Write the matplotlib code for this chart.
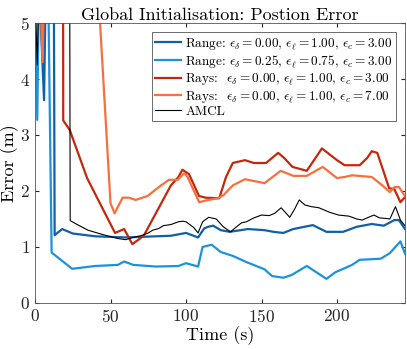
import matplotlib
matplotlib.use("Agg")
import matplotlib.pyplot as plt

plt.rcParams['font.family'] = 'serif'
plt.rcParams['font.serif'] = ['cmr10']
plt.rcParams['mathtext.fontset'] = 'cm'
plt.rcParams['axes.formatter.use_mathtext'] = True

# Range, eps_d=0.00, eps_l=1.00, eps_c=3.00
range1_t = [0, 3, 6, 7, 12.5, 13, 18, 25, 40, 60, 70, 90, 100, 108, 112, 114.6, 118, 123, 129, 141,
            152, 158, 164.5, 171, 184, 193, 204, 213, 223, 231, 238, 241, 245]
range1_e = [5.5, 5.5, 3.62, 5.5, 5.5, 1.21, 1.32, 1.24, 1.19, 1.17, 1.18, 1.20, 1.25, 1.17, 1.33, 1.36,
            1.38, 1.30, 1.27, 1.32, 1.30, 1.27, 1.25, 1.32, 1.39, 1.27, 1.27, 1.36, 1.41, 1.38, 1.48, 1.48, 1.32]

# Range, eps_d=0.25, eps_l=0.75, eps_c=3.00
range2_t = [0, 1.5, 2.5, 8.8, 11, 24.6, 40, 55, 59, 65, 80, 95, 100, 108, 111, 117, 123, 131, 140,
            152, 157, 164.5, 170, 180, 193, 199, 205, 210, 215, 229, 235, 242, 245]
range2_e = [5.5, 3.27, 5.5, 5.5, 0.90, 0.61, 0.66, 0.68, 0.74, 0.68, 0.65, 0.66, 0.71, 0.65, 1.00, 1.04,
            0.91, 0.84, 0.73, 0.60, 0.48, 0.45, 0.50, 0.66, 0.43, 0.55, 0.62, 0.68, 0.77, 0.79, 0.89, 1.10, 0.88]

# Rays, eps_d=0.00, eps_l=1.00, eps_c=3.00
rays1_t = [0, 18.6, 18.7, 23, 34.5, 53, 59, 64.5, 72, 80, 90, 95, 97.6, 102, 108.6, 113, 122, 126.5,
           131, 139, 145, 153, 157, 161, 165, 170.5, 180, 190, 200, 205, 215, 220, 223, 226.7, 234.5,
           238, 242, 245]
rays1_e = [5.5, 5.5, 3.26, 3.09, 2.23, 1.25, 1.32, 1.05, 1.20, 1.60, 2.10, 2.25, 2.38, 2.30, 1.91, 1.88,
           1.87, 2.25, 2.50, 2.55, 2.50, 2.50, 2.59, 2.68, 2.59, 2.43, 2.36, 2.76, 2.55, 2.46, 2.46, 2.59,
           2.71, 2.68, 2.05, 2.03, 1.80, 1.89]

# Rays, eps_d=0.00, eps_l=1.00, eps_c=7.00
rays2_t = [0, 3.5, 5, 6, 42, 50, 52.7, 58, 62, 66.7, 74.5, 82, 88.7, 94.5, 98.9, 101, 108.7, 114.7,
           121, 125, 131, 139, 152, 162.7, 171, 180, 190.5, 200, 205, 210, 223, 230, 235, 238, 241, 245]
rays2_e = [5.5, 5.5, 4.3, 5.5, 5.5, 1.78, 1.60, 1.88, 1.88, 1.84, 1.91, 2.07, 2.20, 2.20, 2.32, 2.25,
           1.80, 1.84, 1.87, 1.93, 2.10, 2.21, 2.14, 2.36, 2.27, 2.27, 2.43, 2.23, 2.25, 2.28, 2.25, 2.10,
           1.98, 2.07, 2.07, 1.91]

# AMCL
amcl_t = [0, 1.5, 2.5, 23.0, 23.3, 28, 35, 45, 55, 60, 65, 70, 75, 78, 82, 85, 90, 95, 98, 100, 102,
          105, 108, 111, 115, 120, 124.7, 129.5, 133, 136.7, 140, 145, 150, 155, 158.7, 163, 168.7, 172,
          175, 178.7, 183, 188, 195, 201, 208, 213, 216.7, 220, 224.5, 228, 232, 235, 238.7, 242, 245]
amcl_e = [5.5, 4.25, 5.5, 5.5, 1.47, 1.40, 1.30, 1.22, 1.15, 1.13, 1.17, 1.20, 1.25, 1.30, 1.33, 1.38,
          1.40, 1.45, 1.46, 1.45, 1.41, 1.35, 1.25, 1.45, 1.53, 1.50, 1.36, 1.27, 1.35, 1.43, 1.45, 1.52,
          1.57, 1.56, 1.60, 1.70, 1.53, 1.68, 1.84, 1.75, 1.72, 1.70, 1.62, 1.57, 1.55, 1.50, 1.48, 1.52,
          1.57, 1.52, 1.51, 1.50, 1.72, 1.48, 1.38]

fig = plt.figure(figsize=(4.07, 3.49), dpi=100)
ax = fig.add_axes([0.086, 0.132, 0.909, 0.802])

ax.plot(range1_t, range1_e, color='#1060a8', lw=1.6,
        label=r'Range: $\epsilon_\delta = 0.00$, $\epsilon_\ell = 1.00$, $\epsilon_c = 3.00$')
ax.plot(range2_t, range2_e, color='#1b93dc', lw=1.6,
        label=r'Range: $\epsilon_\delta = 0.25$, $\epsilon_\ell = 0.75$, $\epsilon_c = 3.00$')
ax.plot(rays1_t, rays1_e, color='#c4280c', lw=1.6,
        label=r'Rays:$\;\,$ $\epsilon_\delta = 0.00$, $\epsilon_\ell = 1.00$, $\epsilon_c = 3.00$')
ax.plot(rays2_t, rays2_e, color='#f5703c', lw=1.6,
        label=r'Rays:$\;\,$ $\epsilon_\delta = 0.00$, $\epsilon_\ell = 1.00$, $\epsilon_c = 7.00$')
ax.plot(amcl_t, amcl_e, color='black', lw=0.8, label='AMCL')

ax.set_xlim(0, 245)
ax.set_ylim(0, 5)
ax.set_xticks([0, 50, 100, 150, 200])
ax.set_yticks([0, 1, 2, 3, 4, 5])
ax.tick_params(direction='in', top=True, right=True, labelsize=12.5, colors='#262626', length=3)
for s in ax.spines.values():
    s.set_color('#555555')
    s.set_linewidth(0.6)

ax.set_title('Global Initialisation: Postion Error', fontsize=13, pad=2)
ax.set_xlabel('Time (s)', fontsize=13, labelpad=1)
ax.set_ylabel('Error (m)', fontsize=13, labelpad=1)

leg = ax.legend(loc='upper right', fontsize=9.5, frameon=True, fancybox=False, edgecolor='#555555',
                framealpha=1, handlelength=2.0, handletextpad=0.3, borderpad=0.25, labelspacing=0.1,
                borderaxespad=0.7)
leg.get_frame().set_linewidth(0.6)

fig.savefig('out.png', dpi=100)
